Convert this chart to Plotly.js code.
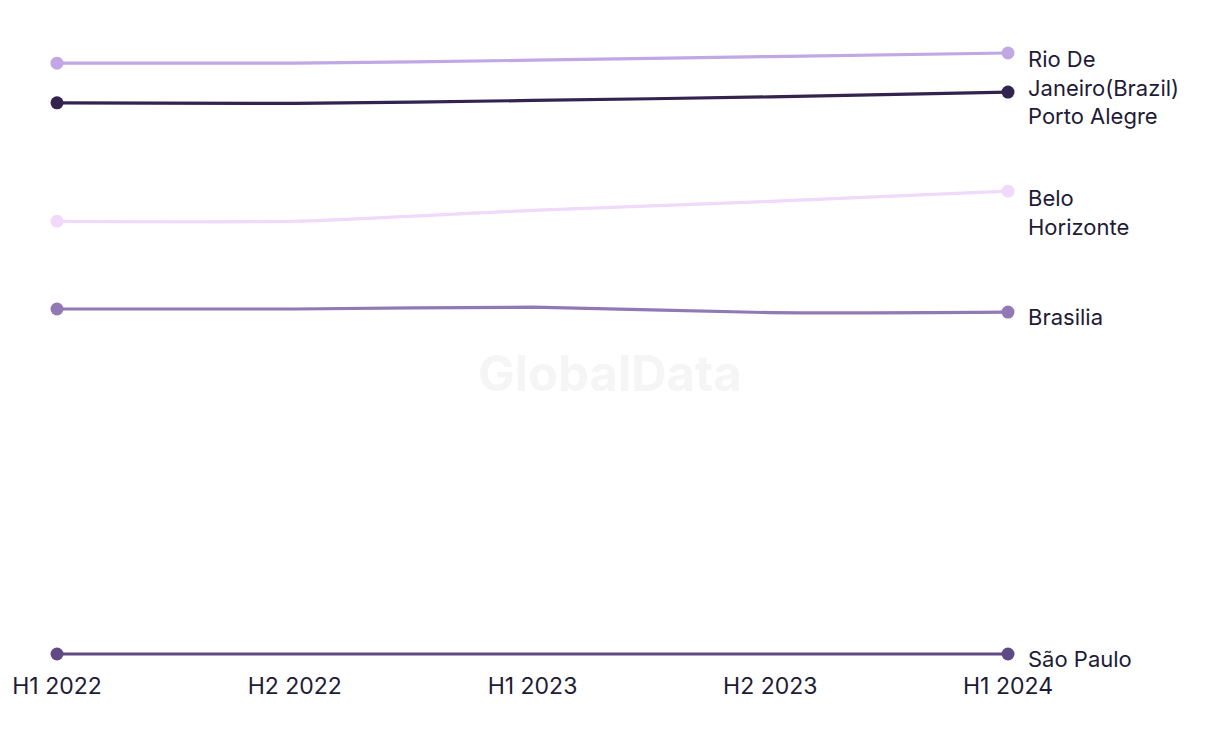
<!DOCTYPE html>
<html>
<head>
<meta charset="utf-8">
<script src="https://cdn.plot.ly/plotly-3.0.1.min.js"></script>
<style>html,body{margin:0;padding:0;background:#fff;}#chart{width:1220px;height:744px;}</style>
</head>
<body>
<div id="chart"></div>
<script>
const periods = ["H1 2022", "H2 2022", "H1 2023", "H2 2023", "H1 2024"];
const cities = ["Rio De<br>Janeiro(Brazil)", "Porto Alegre", "Belo<br>Horizonte", "Brasilia", "São Paulo"];
const rio = [98.3, 98.3, 98.8, 99.4, 100.0];
const portoAlegre = [91.7, 91.6, 92.1, 92.7, 93.5];
const beloHorizonte = [72.0, 72.0, 73.8, 75.3, 77.0];
const brasilia = [57.4, 57.4, 57.7, 56.8, 56.9];
const saoPaulo = [0.0, 0.0, 0.0, 0.0, 0.0];

const series = [rio, portoAlegre, beloHorizonte, brasilia, saoPaulo];
const colors = ["#c1a7e4", "#34224f", "#f0d9fb", "#9179b5", "#5f4a86"];
const labelShift = [-21, -24, -21, -5, -5];

const last = periods.length - 1;
const traces = [];
series.forEach((vals, i) => {
  traces.push({
    type: "scatter", mode: "lines",
    x: periods, y: vals, name: cities[i],
    line: {color: colors[i], width: 3.2, shape: "spline", smoothing: 0.6},
    cliponaxis: false, hoverinfo: "x+y+name"
  });
  traces.push({
    type: "scatter", mode: "markers",
    x: [periods[0], periods[last]], y: [vals[0], vals[last]], name: cities[i],
    marker: {color: colors[i], size: 13, opacity: 1, line: {width: 0}},
    opacity: 1, cliponaxis: false, hoverinfo: "skip"
  });
});

const annotations = series.map((vals, i) => ({
  xref: "x", yref: "y",
  x: periods[last], y: vals[last],
  text: cities[i],
  showarrow: false,
  xanchor: "left", yanchor: "middle", align: "left",
  xshift: 18, yshift: labelShift[i],
  font: {family: "Inter, 'Noto Sans', sans-serif", size: 22, color: "#1e1b36"}
}));
annotations.push({
  xref: "paper", yref: "paper", x: 0.5815, y: 0.471,
  text: "<b>GlobalData</b>", showarrow: false,
  font: {family: "Inter, 'Liberation Sans', sans-serif", size: 49, color: "#f5f5f5"}
});

const layout = {
  width: 1220, height: 744,
  margin: {l: 57, r: 212, t: 40, b: 74},
  paper_bgcolor: "#ffffff", plot_bgcolor: "#ffffff",
  showlegend: false,
  xaxis: {
    type: "category", range: [0, 4],
    showgrid: false, zeroline: false, showline: false, ticks: "",
    tickfont: {family: "Inter, 'Noto Sans', sans-serif", size: 23, color: "#1e1b36"},
    fixedrange: true
  },
  yaxis: {
    range: [-2.66, 102.16],
    showgrid: false, zeroline: false, showline: false, showticklabels: false, ticks: "",
    fixedrange: true
  },
  shapes: [{
    type: "line", xref: "x", yref: "y",
    xsizemode: "pixel", ysizemode: "pixel",
    xanchor: periods[last], yanchor: portoAlegre[last],
    x0: 6, x1: 12, y0: -6, y1: -14,
    line: {color: "#34224f", width: 1.5, dash: "2px,2px"}
  }],
  annotations: annotations
};

Plotly.newPlot("chart", traces, layout, {displayModeBar: false, staticPlot: true});
</script>
</body>
</html>
